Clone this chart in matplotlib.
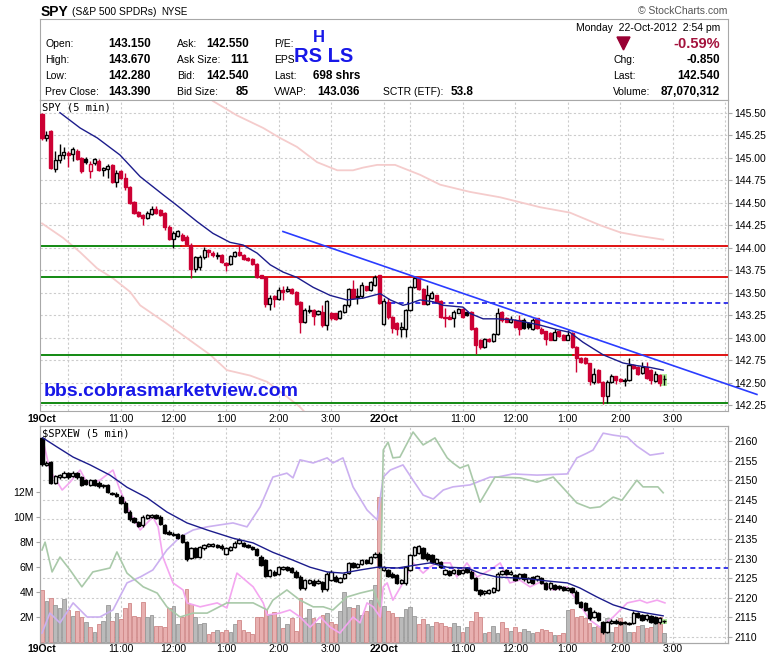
# SPY 5-min intraday chart (StockCharts style), 19-22 Oct 2012

import matplotlib.pyplot as plt
from matplotlib.patches import Rectangle, Polygon

plt.rcParams['font.family'] = ['Liberation Sans', 'DejaVu Sans']

# ---------------- data ----------------
# 5-min bars: index 0 = 19Oct 9:30, index 78 = 22Oct 9:30, last = 22Oct 2:50
spy_open = [145.49,145.22,145.30,144.88,144.97,145.03,145.05,145.04,145.07,145.00,
            144.99,144.85,144.94,144.96,144.86,144.88,144.92,144.73,144.85,144.78,
            144.68,144.51,144.40,144.36,144.33,144.38,144.43,144.42,144.39,144.23,
            144.10,144.13,144.14,144.12,144.03,143.76,143.79,143.90,143.97,143.94,
            143.91,143.92,143.83,143.82,143.91,143.95,143.92,143.89,143.87,143.82,
            143.70,143.67,143.38,143.46,143.43,143.53,143.52,143.54,143.51,143.40,
            143.17,143.30,143.31,143.26,143.29,143.14,143.27,143.27,143.22,143.29,
            143.36,143.54,143.45,143.46,143.57,143.53,143.59,143.70,
            143.15,143.40,143.23,143.16,143.10,143.10,143.31,143.56,143.66,143.54,
            143.37,143.44,143.47,143.41,143.23,143.23,143.22,143.28,143.32,143.29,
            143.29,143.11,142.97,142.90,142.99,142.96,143.04,143.29,143.22,143.18,
            143.20,143.20,143.20,143.16,143.10,143.22,143.10,143.07,143.05,142.98,
            143.07,143.03,142.98,143.05,142.90,142.78,142.77,142.72,142.51,142.64,
            142.51,142.35,142.51,142.57,142.54,142.52,142.53,142.70,142.68,142.61,
            142.68,142.64,142.52,142.59,142.54]
spy_high = [145.50,145.30,145.31,145.07,145.15,145.12,145.07,145.12,145.10,145.01,
            145.01,144.96,145.00,144.99,144.90,144.93,144.93,144.86,144.86,144.83,
            144.69,144.52,144.41,144.37,144.41,144.46,144.46,144.43,144.40,144.25,
            144.19,144.20,144.16,144.14,144.05,143.91,143.92,144.01,143.99,143.96,
            143.95,143.93,143.84,143.92,143.96,144.03,143.93,143.90,143.89,143.83,
            143.70,143.68,143.47,143.47,143.56,143.57,143.57,143.55,143.52,143.41,
            143.33,143.36,143.32,143.31,143.36,143.42,143.29,143.28,143.31,143.37,
            143.55,143.64,143.55,143.62,143.58,143.63,143.70,143.70,
            143.44,143.44,143.24,143.17,143.17,143.32,143.57,143.68,143.67,143.55,
            143.59,143.52,143.48,143.42,143.33,143.25,143.31,143.33,143.33,143.30,
            143.30,143.12,142.99,143.00,143.00,143.05,143.33,143.30,143.23,143.24,
            143.21,143.25,143.22,143.18,143.22,143.22,143.12,143.08,143.06,143.10,
            143.08,143.04,143.09,143.06,142.91,142.79,142.79,142.72,142.66,142.65,
            142.52,142.53,142.60,142.58,142.55,142.55,142.78,142.71,142.69,142.73,
            142.73,142.65,142.63,142.60,142.59]
spy_low = [145.20,145.19,144.87,144.84,144.94,144.99,144.90,144.96,144.97,144.83,
           144.93,144.78,144.92,144.85,144.80,144.78,144.72,144.67,144.76,144.64,
           144.49,144.38,144.34,144.25,144.32,144.36,144.38,144.35,144.20,144.09,
           144.00,144.12,144.08,144.03,143.66,143.73,143.75,143.88,143.90,143.90,
           143.88,143.83,143.74,143.81,143.90,143.91,143.86,143.85,143.81,143.66,
           143.66,143.34,143.31,143.34,143.42,143.42,143.51,143.49,143.36,143.05,
           143.16,143.28,143.14,143.25,143.12,143.09,143.20,143.20,143.21,143.28,
           143.34,143.43,143.37,143.44,143.52,143.52,143.58,143.38,
           143.14,143.21,143.05,143.03,143.01,143.01,143.30,143.55,143.53,143.37,
           143.36,143.43,143.39,143.22,143.12,143.21,143.12,143.27,143.22,143.24,
           143.09,142.82,142.88,142.89,142.95,142.95,143.03,143.18,143.17,143.16,
           143.11,143.03,143.10,143.10,143.09,143.10,143.04,142.92,142.98,142.97,
           143.01,142.97,142.97,142.89,142.62,142.72,142.71,142.47,142.49,142.50,
           142.26,142.27,142.50,142.49,142.51,142.46,142.52,142.65,142.59,142.60,
           142.54,142.49,142.51,142.46,142.47]
spy_close = [145.22,145.25,144.89,144.97,145.03,145.06,145.03,145.10,144.99,144.85,
             144.95,144.93,144.99,144.86,144.89,144.91,144.73,144.83,144.78,144.67,
             144.50,144.39,144.35,144.33,144.39,144.43,144.39,144.36,144.23,144.10,
             144.16,144.19,144.09,144.04,143.76,143.90,143.90,143.97,143.95,143.92,
             143.92,143.84,143.81,143.91,143.95,143.92,143.87,143.86,143.82,143.67,
             143.66,143.38,143.44,143.43,143.53,143.51,143.54,143.50,143.38,143.18,
             143.31,143.31,143.24,143.30,143.14,143.41,143.22,143.21,143.30,143.36,
             143.54,143.44,143.46,143.59,143.53,143.62,143.68,143.39,
             143.41,143.23,143.11,143.10,143.12,143.31,143.56,143.66,143.54,143.38,
             143.48,143.50,143.40,143.23,143.22,143.21,143.29,143.32,143.23,143.25,
             143.10,142.92,142.90,142.99,142.96,143.04,143.28,143.20,143.18,143.21,
             143.12,143.10,143.11,143.12,143.20,143.11,143.05,142.99,142.98,143.06,
             143.02,142.98,143.03,142.90,142.78,142.73,142.72,142.52,142.60,142.51,
             142.35,142.51,142.57,142.53,142.52,142.53,142.70,142.66,142.60,142.68,
             142.55,142.53,142.60,142.50,142.54]

# SPY moving average and price envelope (bar index, price)
spy_ma_i = [4.1, 8.7, 12.6, 17.8, 22.4, 27.6, 30.8, 35.4, 39.0, 42.9, 45.9, 49.1, 52.1, 55.0,
            58.2, 61.9, 65.8, 69.6, 73.3, 77.2, 79.5, 82.4, 84.0, 86.3, 89.3, 91.6, 96.1, 97.7,
            100.7, 103.9, 107.5, 110.7, 113.7, 117.6, 120.5, 123.5, 128.1, 132.6, 135.8, 138.8, 141.8]
spy_ma_p = [145.50, 145.33, 145.22, 145.03, 144.79, 144.59, 144.47, 144.29, 144.16, 144.06, 144.03,
            143.94, 143.81, 143.73, 143.67, 143.56, 143.47, 143.42, 143.44, 143.49, 143.42, 143.36,
            143.38, 143.42, 143.40, 143.36, 143.34, 143.27, 143.21, 143.21, 143.20, 143.17, 143.14,
            143.09, 143.06, 142.95, 142.81, 142.72, 142.69, 142.67, 142.64]
upper_i = [39.0, 44.5, 50.5, 54.3, 58.2, 62.8, 67.4, 71.0, 73.3, 76.5, 80.6, 86.3, 90.9,
           97.7, 104.6, 113.7, 120.5, 127.4, 132.0, 136.5, 141.8]
upper_p = [145.63, 145.47, 145.33, 145.22, 145.12, 144.95, 144.86, 144.86, 144.89, 144.92, 144.92,
           144.81, 144.70, 144.62, 144.56, 144.45, 144.39, 144.25, 144.17, 144.13, 144.09]
lower_i = [0, 4.8, 8.7, 12.6, 16.2, 20.1, 22.4, 28.1, 33.8, 38.4, 42.2, 47.5, 51.4, 55.5, 58.9, 61.2]
lower_p = [144.27, 144.11, 143.95, 143.77, 143.66, 143.51, 143.36, 143.17, 142.97, 142.81, 142.64,
           142.58, 142.51, 142.36, 142.23, 142.11]

# drawn annotations: levels (price, bar where green turns red), prev close, trend line
levels = [144.02, 143.67, 142.81, 142.28]
level_switch = [31.7, 49.8, 121.2, None]
prev_close = 143.39
trend_i = [55.0, 163.2]
trend_p = [144.18, 142.37]

# $SPXEW candles
ew_open = [2160.7,2153.9,2154.7,2149.4,2150.7,2150.9,2151.8,2151.1,2151.9,2150.9,
           2150.0,2148.8,2150.0,2149.4,2148.4,2148.8,2146.8,2146.6,2145.8,2144.3,
           2142.0,2140.3,2139.4,2138.6,2140.3,2140.7,2141.0,2140.7,2138.6,2136.9,
           2136.0,2136.3,2136.0,2134.3,2130.1,2132.6,2130.5,2132.6,2133.2,2133.2,
           2133.5,2133.3,2131.3,2132.2,2133.0,2133.9,2133.9,2133.5,2133.0,2132.4,
           2130.5,2129.6,2125.6,2126.7,2126.1,2127.3,2127.8,2127.5,2126.7,2125.4,
           2122.4,2123.7,2124.4,2123.7,2124.1,2122.2,2124.5,2125.4,2124.1,2125.0,
           2126.4,2128.8,2127.9,2128.6,2129.6,2129.0,2130.5,2131.3,
           2127.1,2127.1,2126.2,2125.8,2123.7,2123.9,2127.1,2130.9,2131.5,2132.6,
           2131.3,2130.9,2129.0,2129.2,2126.2,2126.8,2126.4,2127.1,2126.4,2127.5,
           2126.7,2125.0,2122.0,2121.1,2121.3,2121.6,2122.0,2126.1,2127.1,2126.1,
           2125.8,2125.0,2126.1,2124.1,2125.2,2124.7,2125.0,2123.7,2122.4,2123.3,
           2123.0,2122.8,2122.0,2122.4,2121.6,2119.0,2118.6,2117.3,2115.2,2116.0,
           2113.7,2111.4,2113.5,2114.2,2113.9,2113.5,2113.5,2113.5,2116.0,2115.6,
           2114.5,2115.4,2115.0,2113.7,2114.0]
ew_high = [2161.0,2154.9,2155.0,2151.4,2151.7,2152.3,2152.2,2152.3,2152.2,2151.2,
           2150.3,2150.4,2150.3,2149.7,2149.1,2149.1,2147.1,2146.9,2146.1,2144.6,
           2142.3,2140.6,2139.7,2141.0,2141.4,2141.3,2141.3,2141.0,2138.9,2137.2,
           2136.7,2136.6,2136.3,2134.6,2132.9,2132.9,2133.3,2133.8,2134.0,2134.0,
           2133.8,2133.6,2132.9,2133.3,2134.4,2135.2,2134.2,2133.8,2133.3,2132.7,
           2130.8,2129.9,2127.4,2127.0,2128.2,2128.2,2128.1,2127.8,2127.0,2125.7,
           2124.8,2124.8,2124.7,2124.7,2124.4,2126.5,2127.0,2125.7,2125.3,2126.4,
           2129.1,2129.2,2128.9,2129.9,2129.9,2130.6,2131.6,2131.6,
           2128.2,2127.4,2126.5,2126.1,2124.8,2128.2,2131.2,2133.3,2133.5,2132.9,
           2131.6,2131.2,2130.1,2129.5,2127.4,2127.1,2127.4,2127.4,2127.4,2127.8,
           2127.0,2125.3,2122.3,2122.1,2122.3,2122.7,2126.5,2127.2,2127.4,2127.0,
           2126.1,2126.4,2126.4,2125.3,2125.5,2125.9,2125.3,2124.0,2124.0,2123.6,
           2123.3,2123.1,2122.7,2122.7,2121.9,2119.3,2118.9,2117.6,2116.8,2116.3,
           2114.0,2114.2,2114.5,2114.5,2114.2,2114.2,2113.8,2116.6,2116.3,2115.9,
           2115.9,2115.7,2115.3,2115.1,2114.4]
ew_low = [2153.6,2153.6,2149.1,2149.1,2150.4,2150.6,2150.4,2150.8,2150.4,2148.5,
          2148.7,2148.5,2148.5,2148.1,2148.1,2146.8,2146.2,2145.7,2144.0,2141.7,
          2139.7,2139.1,2138.0,2138.0,2140.0,2140.4,2140.0,2138.5,2136.3,2136.0,
          2135.7,2134.9,2134.0,2129.5,2129.8,2130.2,2130.2,2132.3,2132.9,2132.9,
          2132.7,2132.3,2131.0,2131.9,2132.7,2133.6,2132.9,2132.6,2132.1,2130.6,
          2128.1,2125.3,2125.3,2125.5,2125.8,2127.0,2126.8,2126.4,2125.1,2122.1,
          2122.1,2123.4,2123.0,2123.4,2121.6,2121.7,2124.2,2124.1,2123.8,2124.7,
          2126.1,2127.6,2127.6,2128.3,2128.5,2128.7,2130.2,2127.6,
          2126.8,2125.3,2125.1,2123.4,2123.4,2123.2,2126.8,2130.6,2131.2,2129.8,
          2129.5,2128.9,2128.7,2127.5,2125.9,2125.5,2126.1,2125.9,2126.1,2126.4,
          2124.7,2121.7,2120.5,2120.8,2121.0,2121.3,2121.7,2125.8,2125.8,2125.8,
          2124.2,2124.7,2124.4,2123.8,2123.6,2124.4,2123.4,2121.9,2122.1,2121.9,
          2122.1,2121.7,2121.7,2121.3,2118.3,2117.3,2116.6,2114.4,2114.9,2114.0,
          2110.8,2110.9,2113.2,2113.2,2113.0,2113.2,2113.1,2113.2,2114.9,2114.0,
          2114.2,2113.6,2113.2,2113.4,2113.6]
ew_close = [2154.1,2154.5,2149.4,2151.1,2151.3,2151.9,2150.7,2151.9,2150.7,2148.8,
            2149.0,2150.0,2148.8,2148.4,2148.8,2147.1,2146.5,2146.0,2144.3,2142.0,
            2140.0,2139.4,2138.3,2140.7,2141.0,2141.0,2140.3,2138.8,2136.6,2136.3,
            2136.4,2135.2,2134.3,2129.8,2132.6,2130.5,2133.0,2133.5,2133.7,2133.7,
            2133.0,2132.6,2132.6,2133.0,2134.1,2134.7,2133.2,2132.9,2132.4,2130.9,
            2128.4,2125.6,2127.1,2125.8,2127.9,2127.9,2127.1,2126.7,2125.4,2122.4,
            2124.5,2124.5,2123.3,2124.4,2122.2,2126.2,2126.7,2124.4,2125.0,2126.1,
            2128.8,2127.9,2128.6,2129.6,2128.8,2130.3,2131.3,2127.9,
            2127.9,2125.6,2125.4,2123.7,2124.5,2127.9,2130.9,2133.0,2133.2,2130.1,
            2129.8,2129.2,2129.8,2127.8,2127.1,2125.8,2127.1,2126.2,2127.1,2126.7,
            2125.0,2122.0,2121.0,2121.8,2122.0,2122.4,2126.2,2126.9,2126.1,2126.7,
            2124.5,2126.1,2124.7,2125.0,2123.9,2125.6,2123.7,2122.2,2123.7,2122.2,
            2122.4,2122.0,2122.4,2121.6,2118.6,2117.6,2116.9,2114.8,2116.5,2114.3,
            2111.4,2113.9,2114.2,2113.5,2113.3,2113.9,2113.4,2116.0,2115.2,2114.3,
            2115.6,2113.9,2113.5,2114.8,2114.0]
ew_ma_i = [0.2, 3.4, 7.1, 11.0, 15.5, 19.4, 24.0, 28.5, 33.1, 37.7, 43.6, 48.2, 52.7, 57.3, 61.2,
           65.1, 68.7, 72.6, 76.5, 81.1, 85.6, 88.6, 92.5, 97.0, 100.0, 103.9, 107.5, 111.4, 115.3,
           119.9, 122.8, 126.7, 130.4, 134.2, 138.1, 141.8]
ew_ma_p = [2160.8, 2158.5, 2155.9, 2153.9, 2151.3, 2148.2, 2145.5, 2141.9, 2139.1, 2137.3, 2135.2,
           2134.0, 2131.6, 2129.6, 2127.8, 2126.6, 2126.3, 2127.1, 2127.8, 2127.6, 2128.4, 2128.9,
           2127.8, 2127.6, 2126.3, 2125.3, 2125.1, 2124.8, 2124.3, 2123.8, 2122.5, 2120.2, 2118.2,
           2116.9, 2116.1, 2115.4]
ew_prev_close = 2127.5

# comparison overlays in the lower panel (bar index, value on the $SPXEW scale)
pink_i = [0.2, 1.8, 4.6, 6.4, 8.7, 10.3, 13.2, 16.2, 17.8, 20.1, 22.4, 25.3, 26.5, 27.6, 29.9, 32.2,
          33.1, 36.1, 40.0, 42.2, 44.5, 48.2, 50.5, 51.4, 54.3, 56.6, 58.9, 61.2, 63.5, 65.8, 68.0,
          71.0, 72.6, 74.2, 75.6, 77.2, 77.9, 78.8, 80.1, 82.4, 84.7, 87.0, 88.6, 90.2, 93.2, 94.7,
          97.0, 99.3, 102.3, 104.6, 106.8, 109.1, 111.4, 113.7, 116.7, 119.9, 122.8, 125.1, 127.4,
          130.4, 133.6, 136.5, 138.1, 140.4, 142.2]
pink_v = [2160.3, 2152.6, 2147.5, 2149.5, 2152.6, 2149.3, 2150.0, 2152.6, 2147.5, 2141.6, 2137.3,
          2140.6, 2138.1, 2130.4, 2123.8, 2122.0, 2118.7, 2117.7, 2118.7, 2117.4, 2126.3, 2122.8,
          2118.7, 2115.6, 2116.1, 2116.9, 2115.1, 2112.5, 2115.1, 2112.5, 2111.0, 2115.1, 2113.6,
          2118.7, 2117.7, 2115.1, 2122.8, 2123.8, 2119.4, 2123.8, 2128.9, 2126.3, 2127.9, 2128.9,
          2128.9, 2125.3, 2128.9, 2125.3, 2127.1, 2128.9, 2123.8, 2124.5, 2122.8, 2124.0, 2122.0,
          2122.8, 2118.2, 2114.3, 2112.5, 2115.1, 2118.7, 2119.4, 2118.7, 2119.4, 2118.7]
purple_i = [0, 1.8, 4.1, 7.1, 10.3, 13.2, 16.2, 19.4, 22.4, 25.3, 28.5, 31.5, 34.5, 37.7, 40.6,
            43.6, 46.8, 49.8, 52.7, 55.9, 57.3, 58.9, 61.9, 65.1, 66.4, 68.7, 71.0, 74.2, 76.5,
            77.9, 79.5, 82.4, 84.7, 87.0, 89.3, 91.6, 93.8, 97.7, 102.3, 103.9, 107.5, 113.0,
            119.9, 122.1, 124.4, 125.8, 128.1, 130.4, 133.6, 135.8, 138.8, 141.8]
purple_v = [2111.0, 2116.1, 2113.6, 2118.7, 2115.1, 2115.1, 2116.9, 2123.8, 2125.3, 2127.1, 2132.2,
            2135.5, 2137.3, 2138.1, 2138.6, 2139.1, 2138.1, 2143.2, 2150.8, 2151.8, 2150.6, 2155.2,
            2154.4, 2155.7, 2154.4, 2155.7, 2148.3, 2142.4, 2139.9, 2150.8, 2152.6, 2153.9, 2150.0,
            2146.2, 2145.2, 2147.5, 2148.3, 2148.8, 2150.8, 2150.8, 2151.6, 2151.3, 2151.6, 2155.7,
            2156.9, 2157.7, 2162.0, 2161.5, 2161.0, 2158.7, 2156.4, 2156.9]
green_i = [0, 0.7, 2.3, 4.1, 6.4, 9.1, 11.6, 15.5, 17.1, 19.4, 23.1, 26.3, 28.5, 31.5, 34.5, 37.7,
           42.2, 45.2, 48.2, 51.4, 52.7, 55.9, 58.9, 61.9, 64.2, 66.4, 69.6, 72.6, 75.6, 77.2, 77.9,
           79.0, 80.1, 81.7, 84.7, 87.0, 89.7, 92.5, 93.8, 95.4, 97.3, 100.0, 103.4, 109.1, 113.0,
           116.7, 122.1, 125.1, 127.4, 130.4, 132.4, 135.8, 137.2, 140.6, 141.8]
green_v = [2132.2, 2134.2, 2126.6, 2130.4, 2127.1, 2122.8, 2126.6, 2127.6, 2131.7, 2126.3, 2122.8,
           2121.2, 2117.7, 2115.1, 2116.1, 2116.1, 2118.7, 2118.7, 2118.7, 2116.9, 2119.4, 2122.0,
           2119.4, 2117.7, 2117.7, 2116.9, 2120.2, 2121.2, 2122.0, 2117.7, 2157.7, 2159.7, 2155.7,
           2155.9, 2162.3, 2159.0, 2160.8, 2155.7, 2154.4, 2153.1, 2153.9, 2144.4, 2150.8, 2150.6,
           2149.5, 2150.8, 2144.2, 2142.9, 2143.2, 2145.7, 2144.9, 2150.0, 2148.3, 2148.3, 2146.8]

# volume (millions of shares)
volume = [4.16,3.28,3.49,2.96,2.69,3.41,2.56,2.08,2.48,2.03,
          1.57,1.23,0.77,1.44,1.71,2.93,1.71,2.35,1.87,2.69,
          3.15,2.11,2.03,3.17,1.97,2.16,1.28,1.28,1.23,2.69,
          2.88,1.44,1.97,4.24,3.01,2.03,1.44,1.49,0.61,0.83,
          0.96,0.83,0.96,0.83,1.44,1.76,0.96,0.83,0.64,2.03,
          2.03,2.61,2.16,2.43,2.03,1.09,1.44,1.89,0.88,3.49,
          1.89,2.61,1.89,1.49,2.16,2.29,1.63,1.44,2.51,4.03,
          2.77,2.69,2.96,2.16,2.51,3.36,4.56,11.63,
          2.88,2.51,2.29,2.03,2.03,2.61,2.77,2.08,1.44,1.81,
          1.44,1.28,1.63,1.55,1.28,1.17,1.55,1.28,0.83,1.23,
          1.71,2.43,2.03,0.69,0.83,1.28,0.69,1.63,1.09,0.91,
          1.23,0.83,1.01,0.88,0.69,0.83,1.01,0.96,0.83,0.56,
          0.56,0.69,2.56,2.61,2.03,2.08,1.89,1.49,1.23,1.28,
          1.01,1.89,0.83,1.17,1.89,1.49,0.83,0.83,1.28,1.36,
          1.09,1.23,1.49,2.03,0.69]

# axis ticks
tick_pos = [0, 18, 30, 42, 54, 66, 78, 96, 108, 120, 132, 144]
tick_lab = ['19Oct', '11:00', '12:00', '1:00', '2:00', '3:00',
            '22Oct', '11:00', '12:00', '1:00', '2:00', '3:00']
vgrid = [6, 18, 30, 42, 54, 66, 78, 84, 96, 108, 120, 132, 144, 156]
price_ticks = [142.25, 142.50, 142.75, 143.00, 143.25, 143.50, 143.75,
               144.00, 144.25, 144.50, 144.75, 145.00, 145.25, 145.50]
ew_ticks = [2110, 2115, 2120, 2125, 2130, 2135, 2140, 2145, 2150, 2155, 2160]
vol_ticks = [2, 4, 6, 8, 10, 12]

# ---------------- layout helpers ----------------
W, H = 780, 659
fig = plt.figure(figsize=(W / 100, H / 100), dpi=100)
fig.patch.set_facecolor('white')

SPINE = '#a8a8a8'
GRID = '#cccccc'
RED = '#cc0033'
BLUE = '#1818e8'
FS = 7.5


def rect(x0, y0, x1, y1):
    return [x0 / W, 1 - y1 / H, (x1 - x0) / W, (y1 - y0) / H]


def t(x, y, s, **kw):
    kw.setdefault('va', 'center')
    kw.setdefault('fontsize', FS)
    fig.text(x / W, 1 - y / H, s, **kw)


def style_axes(ax):
    for s in ax.spines.values():
        s.set_color(SPINE)
    ax.set_xlim(-0.46, 156.6)
    for g in vgrid:
        ax.axvline(g, color=GRID, lw=0.8, ls=(0, (2, 2)), zorder=0)
    ax.set_xticks(tick_pos)
    ax.set_xticklabels(tick_lab)
    ax.tick_params(axis='x', length=0, labelsize=FS, pad=2)
    for lab in ax.get_xticklabels():
        if 'Oct' in lab.get_text():
            lab.set_fontweight('bold')


def candles(ax, o, h, l, c, cols, w):
    for i in range(len(o)):
        ax.plot([i, i], [l[i], h[i]], color=cols[i], lw=1, zorder=3, solid_capstyle='butt')
        lo, hi = min(o[i], c[i]), max(o[i], c[i])
        face = 'white' if c[i] > o[i] else cols[i]
        ax.add_patch(Rectangle((i - w / 2, lo), w, hi - lo, facecolor=face,
                               edgecolor=cols[i], lw=1, zorder=4))


n = len(spy_close)
down = [spy_close[0] < spy_open[0]] + [spy_close[i] < spy_close[i - 1] for i in range(1, n)]

# ---------------- header ----------------
hdr = fig.add_axes(rect(40, 19, 728, 100))
hdr.set_xticks([])
hdr.set_yticks([])
for s in hdr.spines.values():
    s.set_color(SPINE)

t(41, 12, 'SPY', fontsize=10, weight='bold')
t(72, 12, '(S&P 500 SPDRs)', fontsize=7.5)
t(161, 12, 'NYSE', fontsize=7)
t(727, 11, '\u00a9 StockCharts.com', ha='right', fontsize=7.5, color='#555555')

rows = [44, 60, 76, 92]
col1 = [('Open:', '143.150'), ('High:', '143.670'), ('Low:', '142.280'), ('Prev Close:', '143.390')]
col2 = [('Ask:', '142.550'), ('Ask Size:', '111'), ('Bid:', '142.540'), ('Bid Size:', '85')]
for y, (a, b) in zip(rows, col1):
    t(45, y, a)
    t(151, y, b, ha='right', fontsize=8.5, weight='bold')
for y, (a, b) in zip(rows, col2):
    t(177, y, a)
    t(249, y, b, ha='right', fontsize=8.5, weight='bold')
t(274, 44, 'P/E:')
t(274, 60, 'EPS')
t(274, 76, 'Last:')
t(360, 76, '698 shrs', ha='right', fontsize=8.5, weight='bold')
t(274, 92, 'VWAP:')
t(360, 92, '143.036', ha='right', fontsize=8.5, weight='bold')
t(383, 92, 'SCTR (ETF):')
t(451, 92, '53.8', fontsize=8.5, weight='bold')
t(319, 38, 'H', ha='center', fontsize=12, weight='bold', color=BLUE)
t(294, 57, 'RS LS', fontsize=14.5, weight='bold', color=BLUE)

t(720, 28, 'Monday  22-Oct-2012  2:54 pm', ha='right')
fig.patches.append(Polygon([[617 / W, 1 - 37 / H], [630 / W, 1 - 37 / H], [623.5 / W, 1 - 50 / H]],
                           closed=True, transform=fig.transFigure, color='#990033'))
t(720, 44, '-0.59%', ha='right', fontsize=10.5, weight='bold', color='#a3123c')
t(613, 60, 'Chg:')
t(720, 60, '-0.850', ha='right', fontsize=8.5, weight='bold')
t(613, 76, 'Last:')
t(720, 76, '142.540', ha='right', fontsize=8.5, weight='bold')
t(613, 92, 'Volume:')
t(720, 92, '87,070,312', ha='right', fontsize=8.5, weight='bold')

# ---------------- SPY price panel ----------------
ax = fig.add_axes(rect(40, 100, 728, 411))
style_axes(ax)
ax.set_ylim(142.186, 145.641)
ax.set_yticks(price_ticks)
ax.set_yticklabels(['%.2f' % p for p in price_ticks])
ax.yaxis.tick_right()
ax.tick_params(axis='y', length=3, color=SPINE, labelsize=FS, pad=1.5)
for p in price_ticks:
    ax.axhline(p, color=GRID, lw=0.8, ls=(0, (2, 2)), zorder=0)

ax.plot(upper_i, upper_p, color='#f5cccc', lw=1.3, zorder=1)
ax.plot(lower_i, lower_p, color='#f5cccc', lw=1.3, zorder=1)

for lv, sw in zip(levels, level_switch):
    if sw is None:
        ax.plot([-0.46, 156.6], [lv, lv], color='#008000', lw=1.3, zorder=2)
    else:
        ax.plot([-0.46, sw], [lv, lv], color='#008000', lw=1.3, zorder=2)
        ax.plot([sw, 156.6], [lv, lv], color='#dd0000', lw=1.3, zorder=2)
ax.plot([77.5, 156.6], [prev_close, prev_close], color=BLUE, lw=1.2, ls=(0, (3, 2)), zorder=2)

last = n - 1
ax.add_patch(Rectangle((last - 0.7, spy_low[last] - 0.01), 1.4, spy_high[last] - spy_low[last] + 0.02,
                       facecolor='#b6f0a0', edgecolor='none', zorder=2))
candles(ax, spy_open, spy_high, spy_low, spy_close,
        [RED if d else 'black' for d in down], 0.7)

ax.plot(spy_ma_i, spy_ma_p, color='#1c1c8c', lw=1, zorder=5)
ax.plot(trend_i, trend_p, color='#2a3cff', lw=1.2, zorder=6, clip_on=False)

t(42, 107, 'SPY (5 min)', family='DejaVu Sans Mono', fontsize=7.5)
t(44, 392, 'bbs.cobrasmarketview.com', fontsize=14, weight='bold', color=BLUE)

# ---------------- $SPXEW panel with volume ----------------
axv = fig.add_axes(rect(40, 426, 728, 643))
style_axes(axv)
axv.set_ylim(-0.08, 17.28)
axv.set_yticks(vol_ticks)
axv.set_yticklabels(['%dM' % v for v in vol_ticks])
axv.tick_params(axis='y', length=3, color=SPINE, labelsize=FS, pad=1.5)
axv.tick_params(axis='x', pad=1)

axl = axv.twinx()
axl.set_xlim(-0.46, 156.6)
axl.set_ylim(2108.47, 2163.83)
axl.set_yticks(ew_ticks)
axl.tick_params(axis='y', length=3, color=SPINE, labelsize=FS, pad=1.5)
for s in axl.spines.values():
    s.set_color(SPINE)
for q in ew_ticks:
    axv.plot([-1, 160], [q, q], transform=axl.transData, color=GRID, lw=0.8, ls=(0, (2, 2)), zorder=0)
axv.set_xlim(-0.46, 156.6)
axv.set_ylim(-0.08, 17.28)

axv.bar(range(n), volume, width=0.85,
        color=['#e8b0b0' if d else '#bababa' for d in down],
        edgecolor=['#d08888' if d else '#999999' for d in down], lw=0.6, zorder=2)

axl.plot(pink_i, pink_v, color='#f4a6f0', lw=1.2, zorder=1)
axl.plot(purple_i, purple_v, color='#cbb0f0', lw=1.2, zorder=1)
axl.plot(green_i, green_v, color='#a9c9a9', lw=1.2, zorder=1)
axl.plot([77.5, 156.6], [ew_prev_close, ew_prev_close], color=BLUE, lw=1.2, ls=(0, (3, 2)), zorder=2)
axl.add_patch(Rectangle((last - 0.7, ew_low[last] - 0.3), 1.4, ew_high[last] - ew_low[last] + 0.6,
                        facecolor='#b6f0a0', edgecolor='none', zorder=2))
candles(axl, ew_open, ew_high, ew_low, ew_close, ['black'] * n, 0.75)
axl.plot(ew_ma_i, ew_ma_p, color='#1c1c8c', lw=1, zorder=5)

t(42, 433, '\\$SPXEW (5 min)', family='DejaVu Sans Mono', fontsize=7.5)

fig.savefig('out.png', dpi=100, facecolor='white')
